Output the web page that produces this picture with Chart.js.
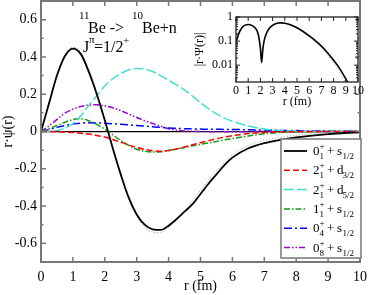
<!DOCTYPE html>
<html lang="en">
<head>
<meta charset="UTF-8">
<title>11Be -> 10Be+n overlaps</title>
<script src="https://cdn.jsdelivr.net/npm/chart.js"></script>
<style>
  body { margin: 0; background: #fff; }
  #wrap { position: relative; width: 374px; height: 295px; }
  #mainChart { position: absolute; left: 0; top: 0; }
  #insetChart { position: absolute; left: 190px; top: 10px; }
</style>
</head>
<body>
<div id="wrap">
  <canvas id="mainChart" width="374" height="295"></canvas>
  <canvas id="insetChart" width="176" height="100"></canvas>
</div>
<script>
// radial grid (fm) for the main plot
const r = [0, 0.25, 0.5, 0.75, 1, 1.25, 1.5, 1.75, 2, 2.25, 2.5, 2.75, 3, 3.25, 3.5, 3.75, 4,
           4.25, 4.5, 4.75, 5, 5.25, 5.5, 5.75, 6, 6.5, 7, 7.5, 8, 8.5, 9, 9.5, 10];

// r*psi(r) for each channel
const ch01s12 = [0, 0.15, 0.30, 0.405, 0.445, 0.415, 0.32, 0.2, 0.06, -0.09, -0.23, -0.355, -0.445, -0.5, -0.525, -0.528, -0.505,
                 -0.47, -0.43, -0.39, -0.335, -0.28, -0.23, -0.18, -0.14, -0.09, -0.062, -0.045, -0.032, -0.022, -0.014, -0.008, -0.005];
const ch21d32 = [0, 0, -0.001, -0.003, -0.005, -0.009, -0.014, -0.021, -0.03, -0.043, -0.057, -0.072, -0.085, -0.096, -0.103, -0.106, -0.102,
                 -0.094, -0.083, -0.071, -0.06, -0.049, -0.039, -0.03, -0.022, -0.011, -0.005, -0.002, -0.001, 0, 0, 0, 0];
const ch21d52 = [0, 0.001, 0.005, 0.018, 0.042, 0.085, 0.14, 0.192, 0.245, 0.283, 0.31, 0.33, 0.338, 0.335, 0.322, 0.3, 0.275,
                 0.25, 0.222, 0.19, 0.155, 0.122, 0.095, 0.072, 0.055, 0.029, 0.013, 0.005, 0.002, 0.001, 0, 0, 0];
const ch11s12 = [0, 0.015, 0.032, 0.05, 0.064, 0.068, 0.058, 0.038, 0.012, -0.018, -0.048, -0.075, -0.095, -0.106, -0.11, -0.108, -0.102,
                 -0.094, -0.086, -0.077, -0.069, -0.061, -0.053, -0.045, -0.038, -0.024, -0.012, -0.005, -0.002, -0.001, 0, 0, 0];
const ch04s12 = [0, 0.01, 0.022, 0.032, 0.04, 0.045, 0.047, 0.046, 0.044, 0.042, 0.039, 0.036, 0.032, 0.029, 0.025, 0.022, 0.019,
                 0.017, 0.015, 0.014, 0.013, 0.012, 0.012, 0.011, 0.011, 0.009, 0.008, 0.006, 0.005, 0.003, 0.002, 0.001, 0.001];
const ch08s12 = [0, 0.03, 0.065, 0.098, 0.12, 0.134, 0.142, 0.143, 0.138, 0.127, 0.112, 0.094, 0.075, 0.058, 0.043, 0.028, 0.015,
                 0.007, 0.003, 0.001, 0, -0.001, -0.002, -0.002, -0.002, -0.001, 0, 0, 0, 0, 0, 0, 0];
// unlabelled dotted reference curve
const refDotted = [0, 0.155, 0.305, 0.41, 0.452, 0.425, 0.33, 0.205, 0.06, -0.095, -0.24, -0.365, -0.455, -0.515, -0.54, -0.543, -0.515,
                   -0.475, -0.425, -0.37, -0.315, -0.26, -0.21, -0.165, -0.125, -0.075, -0.048, -0.032, -0.02, -0.013, -0.008, -0.004, -0.002];

// inset: |r*psi(r)| on a log scale
const rIn = [0, 0.25, 0.5, 0.75, 1, 1.25, 1.5, 1.75, 1.9, 2.0, 2.1, 2.2, 2.3, 2.5, 2.75, 3, 3.25, 3.5, 3.75, 4,
             4.5, 5, 5.5, 6, 6.5, 7, 7.5, 8, 8.5, 9, 9.5];
const absSolid = [0.09, 0.22, 0.37, 0.46, 0.49, 0.46, 0.38, 0.25, 0.12, 0.05, 0.013, 0.045, 0.1, 0.21, 0.35, 0.45, 0.52, 0.56, 0.57, 0.55,
                  0.47, 0.36, 0.25, 0.165, 0.105, 0.062, 0.033, 0.016, 0.0072, 0.0027, 0.0009];
const absDotted = [0.09, 0.225, 0.38, 0.47, 0.5, 0.47, 0.39, 0.26, 0.13, 0.06, 0.02, 0.05, 0.11, 0.22, 0.36, 0.46, 0.535, 0.575, 0.585, 0.56,
                   0.47, 0.35, 0.235, 0.15, 0.093, 0.053, 0.027, 0.012, 0.0052, 0.0018, 0.0006];

// ticks
const xTicks = [0, 1, 2, 3, 4, 5, 6, 7, 8, 9, 10];
const yTicks = [-0.6, -0.4, -0.2, 0, 0.2, 0.4, 0.6];
const yTickLabels = ['-0.6', '-0.4', '-0.2', '0', '0.2', '0.4', '0.6'];
const yMinor = [-0.7, -0.5, -0.3, -0.1, 0.1, 0.3, 0.5, 0.7];
const inYTicks = [0.01, 0.1, 1];
const inYTickLabels = ['0.01', '0.1', '1'];
const inYMinor = [0.003, 0.004, 0.005, 0.006, 0.007, 0.008, 0.009, 0.02, 0.03, 0.04, 0.05, 0.06, 0.07, 0.08, 0.09,
                  0.2, 0.3, 0.4, 0.5, 0.6, 0.7, 0.8, 0.9];

// legend text pieces: core state, its index, orbital, j
const legNuc = ['0', '2', '2', '1', '0', '0'];
const legIdx = ['1', '1', '1', '1', '4', '8'];
const legOrb = ['s', 'd', 'd', 's', 's', 's'];
const legJ = ['1/2', '3/2', '5/2', '1/2', '1/2', '1/2'];

const serif = "'Liberation Serif', 'Times New Roman', serif";

function line(xs, ys, color, dash, width) {
    return {
        data: xs.map((x, i) => ({ x: x, y: ys[i] })),
        borderColor: color,
        borderDash: dash,
        borderWidth: width,
        pointRadius: 0,
        fill: false,
        cubicInterpolationMode: 'monotone'
    };
}

function tickMarks(ctx, a, x, y, xs, ys, ysMinor, len, minLen) {
    ctx.beginPath();
    xs.forEach(v => {
        const px = x.getPixelForValue(v);
        ctx.moveTo(px, a.bottom); ctx.lineTo(px, a.bottom - len);
        ctx.moveTo(px, a.top); ctx.lineTo(px, a.top + len);
    });
    ys.forEach(v => {
        const py = y.getPixelForValue(v);
        ctx.moveTo(a.left, py); ctx.lineTo(a.left + len, py);
        ctx.moveTo(a.right, py); ctx.lineTo(a.right - len, py);
    });
    ysMinor.forEach(v => {
        const py = y.getPixelForValue(v);
        ctx.moveTo(a.left, py); ctx.lineTo(a.left + minLen, py);
        ctx.moveTo(a.right, py); ctx.lineTo(a.right - minLen, py);
    });
    ctx.stroke();
}

function txt(ctx, s, x, y, size) {
    ctx.font = size + 'px ' + serif;
    ctx.fillText(s, x, y);
}

const mainDecor = {
    id: 'mainDecor',
    afterDatasetsDraw(chart) {
        const { ctx, chartArea: a, scales: { x, y } } = chart;
        ctx.save();
        // frame + inward ticks
        ctx.strokeStyle = '#777';
        ctx.lineWidth = 2;
        ctx.strokeRect(a.left, a.top, a.right - a.left, a.bottom - a.top);
        ctx.lineWidth = 1.5;
        tickMarks(ctx, a, x, y, xTicks, yTicks, yMinor, 5, 2.5);

        // reaction label
        ctx.fillStyle = '#000';
        ctx.textBaseline = 'alphabetic';
        txt(ctx, '11', 79, 19, 11);
        txt(ctx, 'Be ->', 88, 33, 16);
        txt(ctx, '10', 132, 19, 11);
        txt(ctx, 'Be+n', 142, 33, 16);
        txt(ctx, 'J', 83, 52, 16);
        txt(ctx, 'π', 89, 43, 11);
        txt(ctx, '=1/2', 94, 52, 16);
        txt(ctx, '+', 123, 44, 11);

        // legend box
        ctx.fillStyle = '#fff';
        ctx.fillRect(281, 139, 80, 119);
        ctx.strokeStyle = '#777';
        ctx.lineWidth = 1.5;
        ctx.strokeRect(281, 139, 80, 119);
        legNuc.forEach((n, i) => {
            const ds = chart.data.datasets[i];
            const cy = 151 + i * 19.3;
            ctx.save();
            ctx.strokeStyle = ds.borderColor;
            ctx.lineWidth = ds.borderWidth;
            ctx.setLineDash(ds.borderDash || []);
            ctx.beginPath();
            ctx.moveTo(284, cy); ctx.lineTo(307, cy);
            ctx.stroke();
            ctx.restore();
            ctx.fillStyle = '#000';
            txt(ctx, n, 313, cy + 4, 13);
            txt(ctx, '+', 319.5, cy - 2, 9);
            txt(ctx, legIdx[i], 319.5, cy + 8, 9);
            txt(ctx, '+', 327, cy + 4, 13);
            txt(ctx, legOrb[i], 337, cy + 4, 13);
            txt(ctx, legJ[i], 342.5, cy + 8, 9);
        });
        ctx.restore();
    }
};

new Chart(document.getElementById('mainChart'), {
    type: 'line',
    data: {
        datasets: [
            line(r, ch01s12, '#000000', [], 1.8),
            line(r, ch21d32, '#ff0000', [6, 3], 1.5),
            line(r, ch21d52, '#40e0d0', [10, 3], 1.5),
            line(r, ch11s12, '#119911', [6, 2, 1.5, 2], 1.5),
            line(r, ch04s12, '#0000ff', [8, 3, 2, 3], 1.5),
            line(r, ch08s12, '#9400d3', [6, 2, 1.5, 2, 1.5, 2], 1.5),
            line(r, refDotted, '#999999', [1, 2], 1)
        ]
    },
    options: {
        responsive: false,
        animation: false,
        layout: { padding: { top: 1, right: 8, left: 0, bottom: 0 } },
        plugins: { legend: { display: false }, tooltip: { enabled: false } },
        scales: {
            x: {
                type: 'linear', min: 0, max: 10,
                afterBuildTicks: s => { s.ticks = xTicks.map(v => ({ value: v })); },
                afterFit: s => { s.height = 33; },
                ticks: { padding: 7, color: '#000', maxRotation: 0, autoSkip: false, font: { family: serif, size: 14 } },
                grid: { display: false, drawTicks: false },
                border: { display: false },
                title: { display: true, text: 'r (fm)', color: '#000', padding: 0, font: { family: serif, size: 14 } }
            },
            y: {
                type: 'linear', min: -0.7, max: 0.7,
                afterBuildTicks: s => { s.ticks = yTicks.map(v => ({ value: v })); },
                afterFit: s => { s.width = 41; s.paddingTop = 0; s.paddingBottom = 0; },
                ticks: { padding: 4, color: '#000', autoSkip: false, callback: (v, i) => yTickLabels[i], font: { family: serif, size: 14 } },
                grid: { drawTicks: false, lineWidth: 1.2, color: c => (c.tick && c.tick.value === 0) ? '#000' : 'rgba(0,0,0,0)' },
                border: { display: false },
                title: { display: true, text: 'r·ψ(r)', color: '#000', padding: 0, font: { family: serif, size: 14 } }
            }
        }
    },
    plugins: [mainDecor]
});

const insetDecor = {
    id: 'insetDecor',
    afterDatasetsDraw(chart) {
        const { ctx, chartArea: a, scales: { x, y } } = chart;
        ctx.save();
        ctx.strokeStyle = '#222';
        ctx.lineWidth = 1.3;
        ctx.strokeRect(a.left, a.top, a.right - a.left, a.bottom - a.top);
        ctx.lineWidth = 1;
        tickMarks(ctx, a, x, y, xTicks, inYTicks, inYMinor, 4, 2);
        ctx.restore();
    }
};

new Chart(document.getElementById('insetChart'), {
    type: 'line',
    data: {
        datasets: [
            line(rIn, absSolid, '#000000', [], 1.6),
            line(rIn, absDotted, '#999999', [1, 2], 1)
        ]
    },
    options: {
        responsive: false,
        animation: false,
        layout: { padding: { top: 7, right: 7, left: 0, bottom: 0 } },
        plugins: { legend: { display: false }, tooltip: { enabled: false } },
        scales: {
            x: {
                type: 'linear', min: 0, max: 10,
                afterBuildTicks: s => { s.ticks = xTicks.map(v => ({ value: v })); },
                afterFit: s => { s.height = 28; },
                ticks: { padding: 2, color: '#000', maxRotation: 0, autoSkip: false, font: { family: serif, size: 12 } },
                grid: { display: false, drawTicks: false },
                border: { display: false },
                title: { display: true, text: 'r (fm)', color: '#000', padding: { top: 0, bottom: 1 }, font: { family: serif, size: 12 } }
            },
            y: {
                type: 'logarithmic', min: 0.002, max: 1,
                afterBuildTicks: s => { s.ticks = inYTicks.map(v => ({ value: v })); },
                afterFit: s => { s.width = 46; s.paddingTop = 0; s.paddingBottom = 0; },
                ticks: { padding: 3, color: '#000', autoSkip: false, callback: (v, i) => inYTickLabels[i], font: { family: serif, size: 12 } },
                grid: { display: false, drawTicks: false },
                border: { display: false },
                title: { display: true, text: '|r·Ψ(r)|', color: '#000', padding: { top: 3, bottom: 0 }, font: { family: serif, size: 12 } }
            }
        }
    },
    plugins: [insetDecor]
});
</script>
</body>
</html>
